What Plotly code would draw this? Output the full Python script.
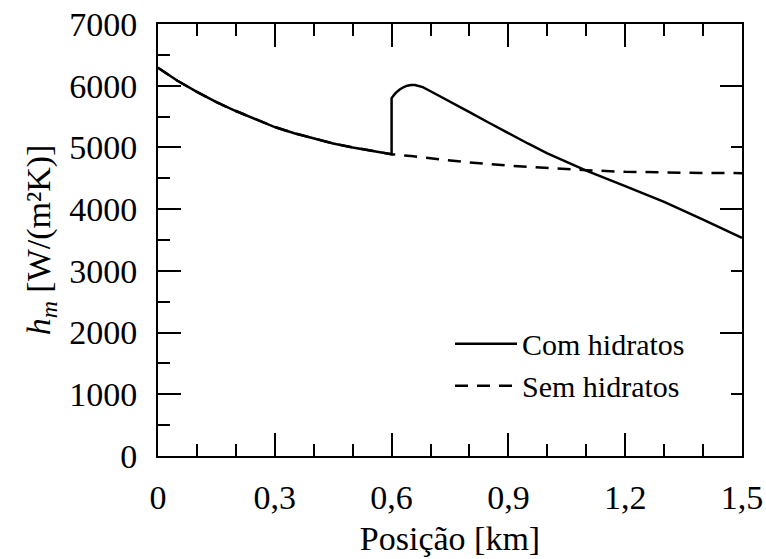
import plotly.graph_objects as go

x_shared = [0.0, 0.05, 0.1, 0.15, 0.2, 0.25, 0.3, 0.35, 0.4, 0.45, 0.5, 0.55, 0.6]
y_shared = [6290, 6080, 5900, 5735, 5590, 5455, 5330, 5230, 5145, 5065, 5000, 4940, 4890]

x_com_after = [0.6, 0.61, 0.62, 0.63, 0.64, 0.65, 0.66, 0.67, 0.68, 0.7, 0.72, 0.75, 0.8, 0.85, 0.9,
               0.95, 1.0, 1.05, 1.1, 1.2, 1.3, 1.4, 1.5]
y_com_after = [5800, 5880, 5935, 5975, 6000, 6012, 6010, 5998, 5978, 5910, 5845, 5742, 5572, 5400, 5228,
               5064, 4905, 4762, 4625, 4372, 4118, 3830, 3535]

x_sem_after = [0.65, 0.7, 0.8, 0.9, 1.0, 1.1, 1.2, 1.3, 1.4, 1.5]
y_sem_after = [4860, 4825, 4755, 4705, 4665, 4630, 4605, 4592, 4586, 4583]

x_ticks = [0, 0.3, 0.6, 0.9, 1.2, 1.5]
x_ticklabels = ["0", "0,3", "0,6", "0,9", "1,2", "1,5"]
y_ticks = [0, 1000, 2000, 3000, 4000, 5000, 6000, 7000]
y_ticks_right = [0, 2000, 4000, 6000]

series_names = ["Com hidratos", "Sem hidratos"]

FONT = "Liberation Serif, Times New Roman, serif"
X_RANGE = [0, 1.5]
Y_RANGE = [0, 7000]

fig = go.Figure()
fig.add_trace(go.Scatter(
    x=x_shared + x_com_after, y=y_shared + y_com_after, mode="lines",
    line=dict(color="black", width=2.5), name=series_names[0], hoverinfo="skip"))
fig.add_trace(go.Scatter(
    x=x_shared + x_sem_after, y=y_shared + y_sem_after, mode="lines",
    line=dict(color="black", width=2.5, dash="13px,9px"), name=series_names[1], hoverinfo="skip"))
# invisible helper trace that activates the mirrored (top/right) frame axes
fig.add_trace(go.Scatter(
    x=X_RANGE, y=Y_RANGE, xaxis="x2", yaxis="y2", mode="markers",
    marker=dict(opacity=0), showlegend=False, hoverinfo="skip"))

axis_common = dict(showline=True, linecolor="black", linewidth=2, showgrid=False, zeroline=False)
major = dict(ticks="inside", tickwidth=2, tickcolor="black")


def minor(dt, length):
    return dict(tickmode="linear", dtick=dt, tick0=0, ticks="inside", ticklen=length,
                tickwidth=2, tickcolor="black")


fig.update_layout(
    width=766, height=559,
    margin=dict(l=158, r=24, t=24, b=103, autoexpand=False),
    paper_bgcolor="white", plot_bgcolor="white",
    showlegend=True,
    legend=dict(x=0.5, y=0.32, xanchor="left", yanchor="top",
                font=dict(family=FONT, size=30, color="black"),
                bgcolor="rgba(0,0,0,0)", itemwidth=62, tracegroupgap=0),
    xaxis=dict(
        range=X_RANGE, tickmode="array", tickvals=x_ticks, ticktext=x_ticklabels, ticklen=23,
        minor=minor(0.1, 12),
        tickfont=dict(family=FONT, size=34, color="black"), ticklabelstandoff=10,
        title=dict(text="Posição [km]", font=dict(family=FONT, size=34, color="black"), standoff=11),
        **major, **axis_common),
    yaxis=dict(
        range=Y_RANGE, tickmode="array", tickvals=y_ticks, ticklen=23,
        minor=minor(500, 12),
        tickfont=dict(family=FONT, size=34, color="black"), ticklabelstandoff=12,
        title=dict(text="<i>h</i><sub><i>m</i></sub> [W/(m²K)]",
                   font=dict(family=FONT, size=34, color="black"), standoff=8),
        **major, **axis_common),
    xaxis2=dict(
        range=X_RANGE, overlaying="x", side="top", anchor="y2", tickmode="array", tickvals=x_ticks,
        ticklen=23, showticklabels=False, minor=minor(0.1, 12),
        **major, **axis_common),
    yaxis2=dict(
        range=Y_RANGE, overlaying="y", side="right", anchor="x2", tickmode="array", tickvals=y_ticks_right,
        ticklen=22, showticklabels=False, minor=minor(1000, 11),
        **major, **axis_common),
)

fig.write_html("out.html")
